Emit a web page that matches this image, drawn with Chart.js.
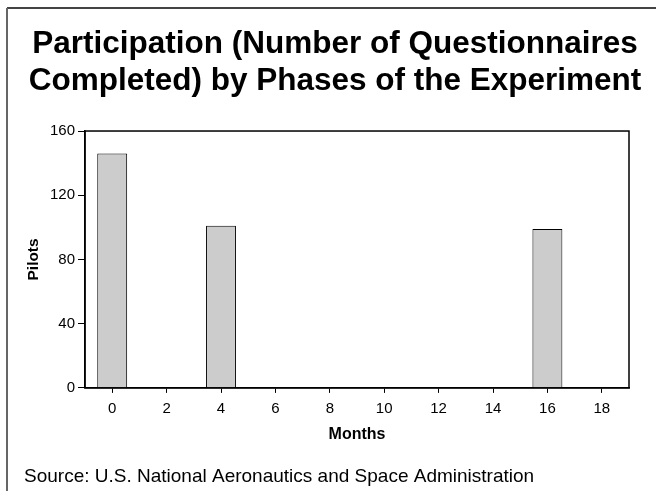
<!DOCTYPE html>
<html>
<head>
<meta charset="utf-8">
<script src="https://cdn.jsdelivr.net/npm/chart.js@4/dist/chart.umd.min.js"></script>
<style>
html,body{margin:0;padding:0;background:#fff;}
canvas{display:block;}
</style>
</head>
<body>
<canvas id="c" width="656" height="491"></canvas>
<script>
const titleLines = ['Participation (Number of Questionnaires', 'Completed) by Phases of the Experiment'];
const sourceText = 'Source: U.S. National Aeronautics and Space Administration';
const months = ['0', '2', '4', '6', '8', '10', '12', '14', '16', '18'];
const pilots = [146, null, 101, null, null, null, null, null, 99, null];
const yTicks = [0, 40, 80, 120, 160];
const xTitle = 'Months';
const yTitle = 'Pilots';

const FONT = "'Liberation Sans', Arial, Helvetica, sans-serif";

const framePlugin = {
  id: 'frame',
  beforeDraw(chart) {
    const ctx = chart.ctx;
    ctx.save();
    ctx.fillStyle = '#fff';
    ctx.fillRect(0, 0, chart.width, chart.height);
    ctx.strokeStyle = '#444';
    ctx.lineWidth = 2;
    ctx.beginPath();
    ctx.moveTo(7, 8); ctx.lineTo(chart.width, 8);
    ctx.stroke();
    ctx.strokeStyle = '#666';
    ctx.beginPath();
    ctx.moveTo(7, 8); ctx.lineTo(7, chart.height);
    ctx.stroke();
    ctx.restore();
  },
  afterDraw(chart) {
    const a = chart.chartArea;
    const ctx = chart.ctx;
    ctx.save();
    ctx.strokeStyle = '#000';
    ctx.lineWidth = 1.5;
    ctx.strokeRect(a.left, a.top, a.right - a.left, a.bottom - a.top);
    ctx.restore();
  }
};

new Chart(document.getElementById('c'), {
  type: 'bar',
  data: {
    labels: months,
    datasets: [{
      data: pilots,
      backgroundColor: '#cccccc',
      borderColor: '#000',
      borderWidth: 1,
      categoryPercentage: 1,
      barPercentage: 0.55
    }]
  },
  options: {
    responsive: false,
    animation: false,
    devicePixelRatio: 1,
    layout: { padding: { left: 24, right: 10, top: 0, bottom: 0 } },
    plugins: {
      legend: { display: false },
      tooltip: { enabled: false },
      title: {
        display: true,
        text: titleLines,
        color: '#000',
        font: { family: FONT, size: 31.5, weight: 'bold', lineHeight: 1.175 },
        padding: { top: 25.6, bottom: 31.4 }
      },
      subtitle: {
        display: true,
        position: 'bottom',
        align: 'start',
        text: sourceText,
        color: '#000',
        font: { family: FONT, size: 19, weight: 'normal', lineHeight: 1.2 },
        padding: { top: 10.3, bottom: 3 }
      }
    },
    scales: {
      x: {
        grid: { offset: false, drawOnChartArea: false, drawTicks: true, tickLength: 5, color: '#000', lineWidth: 1 },
        border: { display: true, color: '#000', width: 1.5 },
        ticks: { color: '#000', padding: 7, font: { family: FONT, size: 15 }, maxRotation: 0 },
        title: {
          display: true, text: xTitle, color: '#000',
          font: { family: FONT, size: 16, weight: 'bold', lineHeight: 1.2 },
          padding: { top: 0, bottom: 10.4 }
        },
        afterFit(s) { s.height = 67; }
      },
      y: {
        min: 0, max: 160,
        afterBuildTicks(s) { s.ticks = yTicks.map(v => ({ value: v })); },
        grid: { drawOnChartArea: false, drawTicks: true, tickLength: 7, color: '#000', lineWidth: 1 },
        border: { display: true, color: '#000', width: 1.5 },
        ticks: { color: '#000', padding: 3, font: { family: FONT, size: 15 } },
        title: {
          display: true, text: yTitle, color: '#000',
          font: { family: FONT, size: 15.4, weight: 'bold', lineHeight: 1.2 },
          padding: { top: 0.5, bottom: 0 }
        },
        afterFit(s) { s.width = 61; }
      },
      yR: {
        position: 'right',
        display: true,
        grid: { display: false },
        border: { display: false },
        ticks: { display: false },
        afterFit(s) { s.width = 17; }
      }
    }
  },
  plugins: [framePlugin]
});
</script>
</body>
</html>
